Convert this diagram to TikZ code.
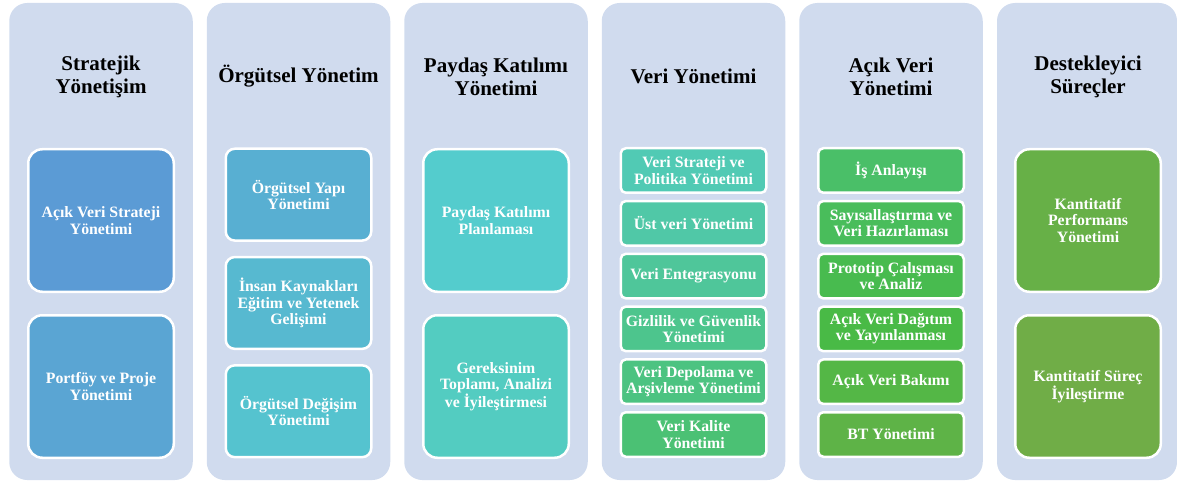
\documentclass[tikz,border=0pt]{standalone}
\usepackage{fontspec}
\setmainfont{Liberation Serif}

% panel background and the colour range of the item boxes
\definecolor{panelbg}{RGB}{208,219,238}
\definecolor{b0}{RGB}{91,155,213}
\definecolor{b1}{RGB}{90,165,211}
\definecolor{b2}{RGB}{88,175,210}
\definecolor{b3}{RGB}{87,185,208}
\definecolor{b4}{RGB}{85,195,207}
\definecolor{b5}{RGB}{84,204,205}
\definecolor{b6}{RGB}{83,204,193}
\definecolor{b7}{RGB}{81,202,180}
\definecolor{b8}{RGB}{80,200,167}
\definecolor{b9}{RGB}{79,198,154}
\definecolor{b10}{RGB}{77,197,141}
\definecolor{b11}{RGB}{76,195,129}
\definecolor{b12}{RGB}{75,193,116}
\definecolor{b13}{RGB}{74,191,104}
\definecolor{b14}{RGB}{73,189,91}
\definecolor{b15}{RGB}{72,187,79}
\definecolor{b16}{RGB}{73,186,70}
\definecolor{b17}{RGB}{84,183,70}
\definecolor{b18}{RGB}{94,179,71}
\definecolor{b19}{RGB}{103,176,71}
\definecolor{b20}{RGB}{112,173,71}

\tikzset{
  panel/.style={fill=panelbg, draw=none, rounded corners=18pt,
    minimum width=183.5pt, minimum height=477pt, inner sep=0pt},
  head/.style={font=\bfseries\fontsize{21}{22.7}\selectfont, align=center,
    text=black, inner sep=0pt},
  item/.style={draw=white, line width=2.5pt, text=white, align=center,
    inner sep=0pt, font=\bfseries\fontsize{15.8}{16.2}\selectfont,
    minimum width=145.5pt},
  tallbox/.style={item, minimum height=142.5pt, rounded corners=14pt},
  midbox/.style={item, minimum height=91.8pt, rounded corners=9pt},
  shortbox/.style={item, minimum height=44.5pt, rounded corners=5pt},
}

\begin{document}
\begin{tikzpicture}[x=1pt,y=-1pt]
\useasboundingbox (0,0) rectangle (1177,481);
\clip (0,0) rectangle (1177,481);

% six column panels
\node[panel] (p1) at (101,241.5) {};
\node[panel] (p2) at (298.5,241.5) {};
\node[panel] (p3) at (496,241.5) {};
\node[panel] (p4) at (693.5,241.5) {};
\node[panel] (p5) at (891,241.5) {};
\node[panel, minimum width=180pt] (p6) at (1087,241.5) {};

% column titles
\node[head] (h1) at (101,77) {Stratejik\\Yönetişim};
\node[head] (h2) at (298.5,76) {Örgütsel Yönetim};
\node[head] (h3) at (496,77) {Paydaş Katılımı\\Yönetimi};
\node[head] (h4) at (693.5,76) {Veri Yönetimi};
\node[head] (h5) at (891,77) {Açık Veri\\Yönetimi};
\node[head] (h6) at (1088,77) {Destekleyici\\Süreçler};

% Stratejik Yönetişim
\node[tallbox, fill=b0] (s1) at (101,220.5) {Açık Veri Strateji\\Yönetimi};
\node[tallbox, fill=b1] (s2) at (101,386.5) {Portföy ve Proje\\Yönetimi};

% Örgütsel Yönetim
\node[midbox, fill=b2] (o1) at (298.5,194.65) {Örgütsel Yapı\\Yönetimi};
\node[midbox, fill=b3] (o2) at (298.5,302.95) {İnsan Kaynakları\\Eğitim ve Yetenek\\Gelişimi};
\node[midbox, fill=b4] (o3) at (298.5,411.25) {Örgütsel Değişim\\Yönetimi};

% Paydaş Katılımı Yönetimi
\node[tallbox, fill=b5] (k1) at (496,220.5) {Paydaş Katılımı\\Planlaması};
\node[tallbox, fill=b6] (k2) at (496,386.5) {Gereksinim\\Toplamı, Analizi\\ve İyileştirmesi};

% Veri Yönetimi
\node[shortbox, fill=b7]  (v1) at (693.5,170.5) {Veri Strateji ve\\Politika Yönetimi};
\node[shortbox, fill=b8]  (v2) at (693.5,223.3) {Üst veri Yönetimi};
\node[shortbox, fill=b9]  (v3) at (693.5,276.1) {Veri Entegrasyonu};
\node[shortbox, fill=b10] (v4) at (693.5,328.9) {Gizlilik ve Güvenlik\\Yönetimi};
\node[shortbox, fill=b11] (v5) at (693.5,381.7) {Veri Depolama ve\\Arşivleme Yönetimi};
\node[shortbox, fill=b12] (v6) at (693.5,434.5) {Veri Kalite\\Yönetimi};

% Açık Veri Yönetimi
\node[shortbox, fill=b13] (a1) at (891,170.5) {İş Anlayışı};
\node[shortbox, fill=b14] (a2) at (891,223.3) {Sayısallaştırma ve\\Veri Hazırlaması};
\node[shortbox, fill=b15] (a3) at (891,276.1) {Prototip Çalışması\\ve Analiz};
\node[shortbox, fill=b16] (a4) at (891,328.9) {Açık Veri Dağıtım\\ve Yayınlanması};
\node[shortbox, fill=b17] (a5) at (891,381.7) {Açık Veri Bakımı};
\node[shortbox, fill=b18] (a6) at (891,434.5) {BT Yönetimi};

% Destekleyici Süreçler
\node[tallbox, fill=b19] (d1) at (1088,220.5) {Kantitatif\\Performans\\Yönetimi};
\node[tallbox, fill=b20] (d2) at (1088,386.5) {Kantitatif Süreç\\İyileştirme};
\end{tikzpicture}
\end{document}
